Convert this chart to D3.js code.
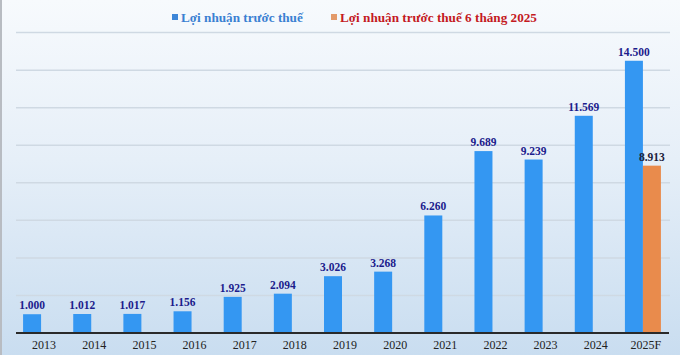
<!DOCTYPE html>
<html>
<head>
<meta charset="utf-8">
<script src="https://cdn.jsdelivr.net/npm/d3@7"></script>
<style>
  body { margin: 0; }
  svg { display: block; }
</style>
</head>
<body>
<svg width="680" height="355"></svg>
<script>
const years = ["2013","2014","2015","2016","2017","2018","2019","2020","2021","2022","2023","2024","2025F"];
const profit = [1000, 1012, 1017, 1156, 1925, 2094, 3026, 3268, 6260, 9689, 9239, 11569, 14500];
const profitLabels = ["1.000","1.012","1.017","1.156","1.925","2.094","3.026","3.268","6.260","9.689","9.239","11.569","14.500"];
const halfYear = [{year: "2025F", value: 8913, label: "8.913"}];
const gridTicks = [2000, 4000, 6000, 8000, 10000, 12000, 14000, 16000];
const legendNames = ["Lợi nhuận trước thuế", "Lợi nhuận trước thuế 6 tháng 2025"];

const svg = d3.select("svg");
const W = 680, H = 355;
const area = { left: 16, right: 668, top: 32.6, bottom: 333 };

// nền gradient
const defs = svg.append("defs");
const grad = defs.append("linearGradient").attr("id", "bg")
    .attr("x1", 0).attr("y1", 0).attr("x2", 0).attr("y2", 1);
grad.append("stop").attr("offset", "0%").attr("stop-color", "#f7fafd");
grad.append("stop").attr("offset", "45%").attr("stop-color", "#e6eff8");
grad.append("stop").attr("offset", "100%").attr("stop-color", "#c9ddf0");
svg.append("rect").attr("width", W).attr("height", H).attr("fill", "url(#bg)");
svg.append("rect").attr("x", 0).attr("y", 0).attr("width", 2).attr("height", H).attr("fill", "#b8bcc2");

const x = d3.scaleBand().domain(years).range([area.left, area.right]);
const y = d3.scaleLinear().domain([0, 16000]).range([area.bottom, area.top]);
const barW = 18;

// lưới ngang
svg.append("g").selectAll("line")
    .data(gridTicks)
    .join("line")
    .attr("x1", area.left).attr("x2", area.right + 2)
    .attr("y1", d => y(d)).attr("y2", d => y(d))
    .attr("stroke", "#cfd9e3").attr("stroke-width", 1.5);

// cột xanh
svg.append("g").selectAll("rect")
    .data(profit)
    .join("rect")
    .attr("x", (d, i) => x(years[i]) + x.bandwidth() / 2 - barW)
    .attr("y", d => y(d))
    .attr("width", barW)
    .attr("height", d => y(0) - y(d))
    .attr("fill", "#3497f2");

// cột cam
svg.append("g").selectAll("rect")
    .data(halfYear)
    .join("rect")
    .attr("x", d => x(d.year) + x.bandwidth() / 2)
    .attr("y", d => y(d.value))
    .attr("width", barW)
    .attr("height", d => y(0) - y(d.value))
    .attr("fill", "#e98b4c");

// nhãn giá trị
svg.append("g").selectAll("text")
    .data(profit)
    .join("text")
    .attr("x", (d, i) => x(years[i]) + x.bandwidth() / 2 - barW / 2)
    .attr("y", d => y(d) - 5)
    .attr("text-anchor", "middle")
    .attr("font-family", "Liberation Serif, serif")
    .attr("font-weight", "bold")
    .attr("font-size", 11.5)
    .attr("fill", "#1c1c8c")
    .text((d, i) => profitLabels[i]);

svg.append("g").selectAll("text")
    .data(halfYear)
    .join("text")
    .attr("x", d => x(d.year) + x.bandwidth() / 2 + barW / 2)
    .attr("y", d => y(d.value) - 5)
    .attr("text-anchor", "middle")
    .attr("font-family", "Liberation Serif, serif")
    .attr("font-weight", "bold")
    .attr("font-size", 11.5)
    .attr("fill", "#1e1e3c")
    .text(d => d.label);

// trục X
svg.append("line")
    .attr("x1", area.left).attr("x2", area.right + 1)
    .attr("y1", y(0)).attr("y2", y(0))
    .attr("stroke", "#2a2a2a").attr("stroke-width", 2);

svg.append("g").selectAll("text")
    .data(years)
    .join("text")
    .attr("x", d => x(d) + x.bandwidth() / 2 + 3)
    .attr("y", 349)
    .attr("text-anchor", "middle")
    .attr("font-family", "Liberation Serif, serif")
    .attr("font-size", 12)
    .attr("fill", "#222")
    .text(d => d);

// chú thích
const legend = [
    { name: legendNames[0], sq: "#3d86d8", color: "#3a80d2", x: 172 },
    { name: legendNames[1], sq: "#e39a6a", color: "#c41a1f", x: 331 }
];
const lg = svg.append("g").selectAll("g").data(legend).join("g")
    .attr("transform", d => `translate(${d.x}, 18)`);
lg.append("rect").attr("x", 0).attr("y", -4).attr("width", 6).attr("height", 6)
    .attr("fill", d => d.sq);
lg.append("text").attr("x", 9).attr("y", 4)
    .attr("font-family", "Liberation Serif, serif")
    .attr("font-weight", "bold")
    .attr("font-size", 13.2)
    .attr("fill", d => d.color)
    .text(d => d.name);
</script>
</body>
</html>
